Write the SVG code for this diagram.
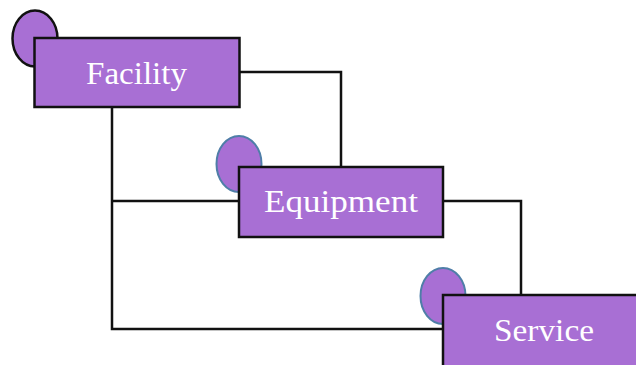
<svg xmlns="http://www.w3.org/2000/svg" width="636" height="365" viewBox="0 0 636 365">
<style>
.box{fill:#a86fd4;stroke:#111;stroke-width:2.5}
.c1{fill:#a86fd4;stroke:#111;stroke-width:2.5}
.c2{fill:#a86fd4;stroke:#4f7ea8;stroke-width:2}
.lbl{font-family:"Liberation Serif","DejaVu Serif",serif;font-size:31px;fill:#fff;text-anchor:middle}
.wire{fill:none;stroke:#111;stroke-width:2.5}
</style>
<rect width="636" height="365" fill="#fff"/>
<g id="connectors">
<path class="wire" d="M239 72H341V167"/>
<path class="wire" d="M112 107V329H443"/>
<path class="wire" d="M112 201H239"/>
<path class="wire" d="M443 201H521V295"/>
</g>
<g id="facility">
<ellipse class="c1" cx="35" cy="38.500" rx="22.500" cy-note="" ry="28"/>
<rect class="box" x="34.500" y="38" width="205" height="69"/>
<text class="lbl" x="136.500" y="84" textLength="101" lengthAdjust="spacingAndGlyphs">Facility</text>
</g>
<g id="equipment">
<ellipse class="c2" cx="239" cy="164" rx="22.500" ry="28"/>
<rect class="box" x="239" y="167" width="204" height="70"/>
<text class="lbl" x="341" y="212" textLength="154" lengthAdjust="spacingAndGlyphs">Equipment</text>
</g>
<g id="service">
<ellipse class="c2" cx="443" cy="296" rx="22.500" ry="28"/>
<rect class="box" x="443" y="295" width="200" height="78"/>
<text class="lbl" x="544" y="341" textLength="100" lengthAdjust="spacingAndGlyphs">Service</text>
</g>
</svg>
